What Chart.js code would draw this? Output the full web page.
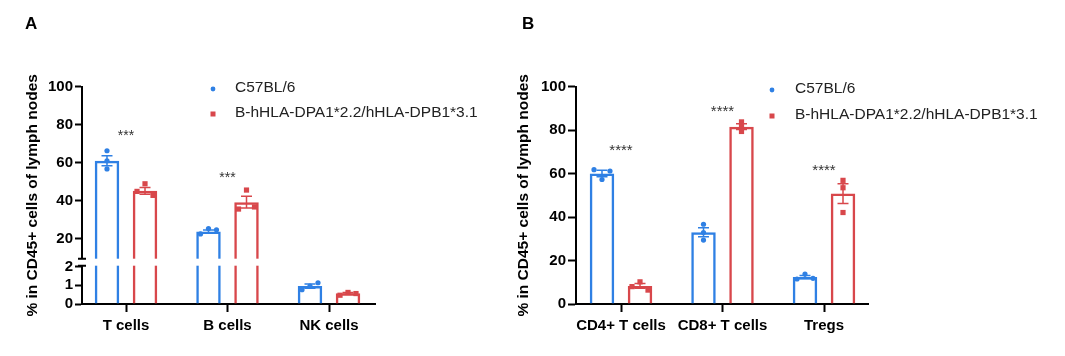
<!DOCTYPE html>
<html><head><meta charset="utf-8">
<script src="https://cdn.jsdelivr.net/npm/chart.js@4.4.1/dist/chart.umd.min.js"></script>
<style>
html,body{margin:0;padding:0;background:#fff;}
body{width:1065px;height:356px;position:relative;overflow:hidden;}
#ca{position:absolute;left:0;top:0;}
#cb{position:absolute;left:490px;top:0;}
</style></head><body>
<canvas id="ca" width="490" height="356"></canvas>
<canvas id="cb" width="575" height="356"></canvas>
<script>
// ---------- DATA ----------
const seriesNames = ['C57BL/6', 'B-hHLA-DPA1*2.2/hHLA-DPB1*3.1'];
const yTitle = '% in CD45+ cells of lymph nodes';

// Panel A (broken axis)
const categoriesA = ['T cells', 'B cells', 'NK cells'];
const ticksA = [0, 1, 2, 20, 40, 60, 80, 100];
const meanA_wt = [61.0, 23.8, 0.96];
const meanA_hu = [45.2, 39.2, 0.57];
const semA_wt = [2.6, 0.8, 0.11];
const semA_hu = [1.8, 3.1, 0.05];
const pointsA_wt = [[66.3, 61.0, 56.7], [22.5, 25.3, 24.7], [0.77, 0.96, 1.14]];
const pointsA_hu = [[48.9, 44.9, 42.8], [45.6, 35.6, 36.7], [0.47, 0.62, 0.56]];
const sigA = ['***', '***', ''];
const sigLevelA = [76.2, 54.1, null];

// Panel B
const categoriesB = ['CD4+ T cells', 'CD8+ T cells', 'Tregs'];
const ticksB = [0, 20, 40, 60, 80, 100];
const meanB_wt = [60.1, 33.0, 12.4];
const meanB_hu = [8.3, 81.6, 50.8];
const semB_wt = [1.5, 2.1, 0.7];
const semB_hu = [1.1, 1.3, 4.5];
const pointsB_wt = [[61.8, 57.3, 61.2], [36.7, 32.9, 29.4], [11.5, 13.8, 11.8]];
const pointsB_hu = [[8.0, 10.2, 6.4], [83.8, 81.7, 79.4], [56.9, 53.5, 42.1]];
const sigB = ['****', '****', '****'];
const sigLevelB = [72.4, 90.3, 63.2];

// ---------- STYLE ----------
const BLUE = '#2f80e4';
const RED = '#d8474b';
const FONT = "'Liberation Sans', Arial, sans-serif";
Chart.defaults.font.family = FONT;
Chart.defaults.color = '#000';

// ---------- broken linear scale ----------
const BRK = {lowMax: 2, highMin: 10, lowFrac: 0.1717, gapFrac: 0.0414};
class BrokenLinearScale extends Chart.LinearScale {
  buildTicks() {
    this.start = this.min; this.end = this.max;
    return this.options.tickValues.map(v => ({value: v}));
  }
  _segs() {
    const h = this.bottom - this.top;
    const lowH = h * BRK.lowFrac, gapH = h * BRK.gapFrac;
    return {h, lowH, gapH, upH: h - lowH - gapH};
  }
  getPixelForValue(value) {
    const s = this._segs(), b = this.bottom;
    if (value <= BRK.lowMax) return b - (value - this.min) / (BRK.lowMax - this.min) * s.lowH;
    if (value >= BRK.highMin) return b - s.lowH - s.gapH - (value - BRK.highMin) / (this.max - BRK.highMin) * s.upH;
    return b - s.lowH - (value - BRK.lowMax) / (BRK.highMin - BRK.lowMax) * s.gapH;
  }
  getValueForPixel(pixel) {
    const s = this._segs(), d = this.bottom - pixel;
    if (d <= s.lowH) return this.min + d / s.lowH * (BRK.lowMax - this.min);
    if (d <= s.lowH + s.gapH) return BRK.lowMax + (d - s.lowH) / s.gapH * (BRK.highMin - BRK.lowMax);
    return BRK.highMin + (d - s.lowH - s.gapH) / s.upH * (this.max - BRK.highMin);
  }
}
BrokenLinearScale.id = 'brokenLinear';
BrokenLinearScale.defaults = {};
Chart.register(BrokenLinearScale);

function laneOffsets(pix, thr, spread) {
  const n = pix.length;
  const idx = pix.map((p, i) => i).sort((a, b) => pix[a] - pix[b]);
  const clusters = []; let cur = [idx[0]];
  for (let k = 1; k < n; k++) {
    if (pix[idx[k]] - pix[idx[k - 1]] < thr) cur.push(idx[k]);
    else { clusters.push(cur); cur = [idx[k]]; }
  }
  clusters.push(cur);
  const off = new Array(n).fill(0);
  clusters.forEach(c => {
    if (c.length > 1) {
      c.sort((a, b) => a - b);
      c.forEach((i, k) => { off[i] = -spread + k * 2 * spread / (c.length - 1); });
    }
  });
  return off;
}

const decor = {
  id: 'decor',
  afterLayout(chart, args, o) {
    const x = chart.scales.x;
    x._startPixel = x.left - o.extL;
    x._endPixel = x.right + o.extR;
    x._length = x._endPixel - x._startPixel;
  },
  afterDatasetsDraw(chart, args, o) {
    const ctx = chart.ctx, y = chart.scales.y, area = chart.chartArea;
    const marks = ['circle', 'square'];
    ctx.save();
    chart.data.datasets.forEach((ds, di) => {
      const meta = chart.getDatasetMeta(di);
      const color = ds.borderColor;
      meta.data.forEach((bar, j) => {
        const cx = bar.x, m = ds.data[j], s = o.sems[di][j];
        const yt = y.getPixelForValue(m + s), yb = y.getPixelForValue(m - s);
        ctx.strokeStyle = color; ctx.lineWidth = 1.5;
        ctx.beginPath();
        ctx.moveTo(cx, yt); ctx.lineTo(cx, yb);
        ctx.moveTo(cx - 5.5, yt); ctx.lineTo(cx + 5.5, yt);
        ctx.moveTo(cx - 5.5, yb); ctx.lineTo(cx + 5.5, yb);
        ctx.stroke();
        const pts = o.points[di][j];
        const pix = pts.map(v => y.getPixelForValue(v));
        const offs = laneOffsets(pix, 4.5, 8);
        ctx.fillStyle = color;
        pix.forEach((py, k) => {
          const px = cx + offs[k];
          if (marks[di] === 'circle') { ctx.beginPath(); ctx.arc(px, py, 2.6, 0, Math.PI * 2); ctx.fill(); }
          else ctx.fillRect(px - 2.6, py - 2.6, 5.2, 5.2);
        });
      });
    });
    // significance stars
    const m0 = chart.getDatasetMeta(0), m1 = chart.getDatasetMeta(1);
    ctx.fillStyle = '#333';
    ctx.font = o.starSize + 'px ' + FONT;
    ctx.textAlign = 'center'; ctx.textBaseline = 'alphabetic';
    o.sig.forEach((t, j) => {
      if (!t) return;
      const cx = (m0.data[j].x + m1.data[j].x) / 2;
      ctx.fillText(t, cx, y.getPixelForValue(o.sigLevel[j]) + o.starSize * 0.58);
    });
    // axis break
    if (o.brk) {
      const yTop = y.getPixelForValue(BRK.highMin), yBot = y.getPixelForValue(BRK.lowMax);
      ctx.fillStyle = '#fff';
      ctx.fillRect(area.left - 3, yTop + 1, area.right - area.left + 3, yBot - yTop - 2);
      ctx.strokeStyle = '#000'; ctx.lineWidth = 2;
      ctx.beginPath();
      ctx.moveTo(area.left - 4, yTop + 1); ctx.lineTo(area.left + 4, yTop + 1);
      ctx.moveTo(area.left - 4, yBot - 1); ctx.lineTo(area.left + 4, yBot - 1);
      ctx.stroke();
    }
    // legend
    const L = o.legend;
    ctx.font = '15.5px ' + FONT; ctx.textAlign = 'left'; ctx.textBaseline = 'middle';
    chart.data.datasets.forEach((ds, di) => {
      const ly = L.y + di * L.dy;
      ctx.fillStyle = ds.borderColor;
      if (marks[di] === 'circle') { ctx.beginPath(); ctx.arc(L.mx, ly + 1, 2.4, 0, Math.PI * 2); ctx.fill(); }
      else ctx.fillRect(L.mx - 2.5, ly - 1.5, 5, 5);
      ctx.fillStyle = '#222';
      ctx.fillText(ds.label, L.tx, ly);
    });
    // panel letter
    ctx.fillStyle = '#000'; ctx.font = 'bold 17px ' + FONT;
    ctx.textAlign = 'left'; ctx.textBaseline = 'alphabetic';
    ctx.fillText(o.letter, o.letterX, o.letterY);
    ctx.restore();
  }
};

function makeChart(id, cats, wt, hu, yScale, padLeft, padRight, yWidth, tickLen, pluginOpts) {
  return new Chart(document.getElementById(id), {
    type: 'bar',
    data: {
      labels: cats,
      datasets: [
        {label: seriesNames[0], data: wt, borderColor: BLUE, backgroundColor: 'rgba(255,255,255,0)', borderWidth: 2.5},
        {label: seriesNames[1], data: hu, borderColor: RED, backgroundColor: 'rgba(255,255,255,0)', borderWidth: 2.5}
      ]
    },
    options: {
      responsive: false, animation: false, events: [],
      devicePixelRatio: 1,
      datasets: {bar: {categoryPercentage: 0.749, barPercentage: 0.645}},
      layout: {padding: {left: padLeft, right: padRight, top: 86.7, bottom: 0}},
      plugins: {legend: {display: false}, tooltip: {enabled: false}, decor: pluginOpts},
      scales: {
        x: {
          offset: true,
          grid: {display: true, offset: false, drawOnChartArea: false, drawTicks: true, tickLength: 8, tickWidth: 2, tickColor: '#000'},
          border: {display: true, color: '#000', width: 2},
          ticks: {font: {size: 15, weight: 'bold'}, color: '#000', padding: 5, maxRotation: 0, autoSkip: false},
          afterFit: s => { s.height = 52; }
        },
        y: Object.assign({
          min: 0, max: 100,
          grid: {display: true, drawOnChartArea: false, drawTicks: true, tickLength: tickLen, tickWidth: 2, tickColor: '#000'},
          border: {display: true, color: '#000', width: 2},
          ticks: {font: {size: 15, weight: 'bold'}, color: '#000', padding: 2, autoSkip: false, callback: v => String(v)},
          title: {display: true, text: yTitle, font: {size: 15.5, weight: 'bold'}, color: '#000', padding: {top: 0, bottom: 0}},
          afterFit: s => { s.width = yWidth; }
        }, yScale)
      }
    },
    plugins: [decor]
  });
}

makeChart('ca', categoriesA, meanA_wt, meanA_hu,
  {type: 'brokenLinear', tickValues: ticksA},
  23, 115, 59, 7,
  {extL: 6.75, extR: 4.75, sems: [semA_wt, semA_hu], points: [pointsA_wt, pointsA_hu],
   sig: sigA, sigLevel: sigLevelA, starSize: 14, brk: true,
   legend: {mx: 213, tx: 235, y: 88, dy: 25}, letter: 'A', letterX: 25, letterY: 29});

makeChart('cb', categoriesB, meanB_wt, meanB_hu,
  {type: 'linear', afterBuildTicks: s => { s.ticks = ticksB.map(v => ({value: v})); }},
  24.7, 197, 61.3, 8,
  {extL: 5.75, extR: 6.75, sems: [semB_wt, semB_hu], points: [pointsB_wt, pointsB_hu],
   sig: sigB, sigLevel: sigLevelB, starSize: 15, brk: false,
   legend: {mx: 282, tx: 305, y: 89, dy: 26}, letter: 'B', letterX: 32, letterY: 29});
</script>
</body></html>
